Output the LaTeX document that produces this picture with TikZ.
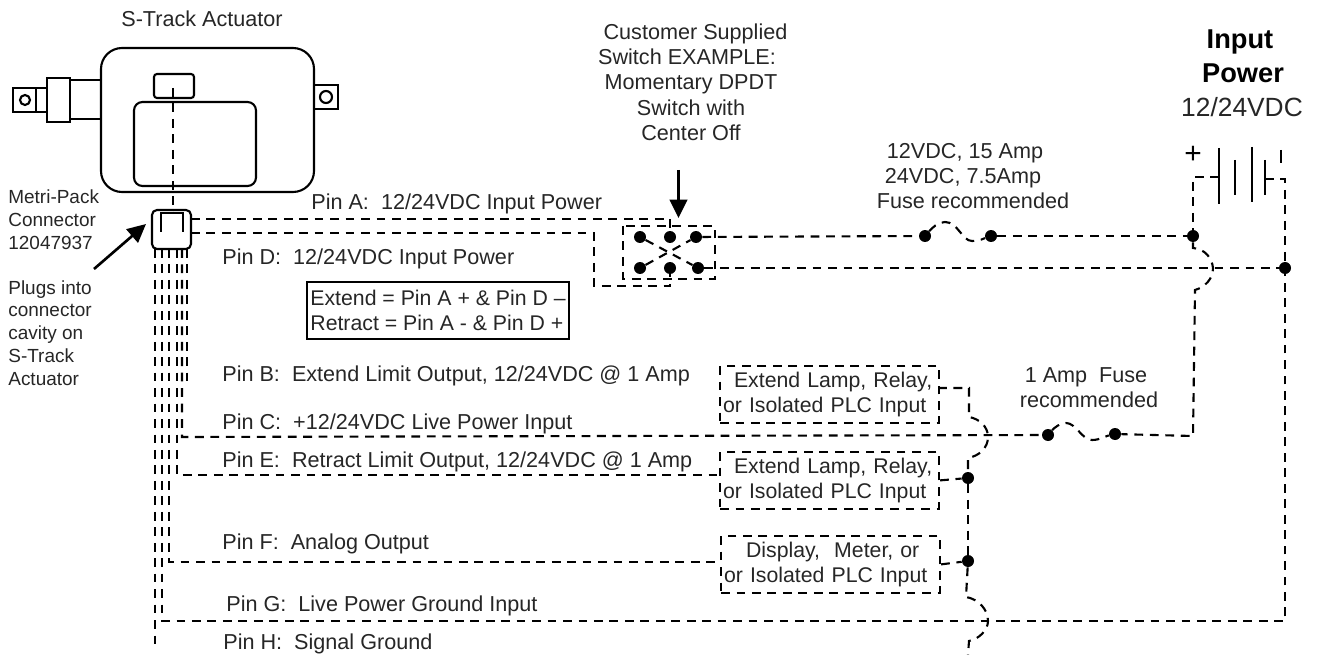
\documentclass[tikz,border=0pt]{standalone}
\usepackage{fontspec}
\setmainfont{Liberation Sans}
\usetikzlibrary{arrows.meta}
\tikzset{
  wire/.style={line width=1.2pt, dash pattern=on 5pt off 3.8pt},
  solid line/.style={line width=1.2pt},
  dot/.style={circle, fill=black, inner sep=0pt, minimum size=0.24cm},
  lampbox/.style={wire, draw, anchor=north west, align=left, text width=4.26cm, inner xsep=0.06cm, minimum height=1.08cm, font=\fontsize{12.1}{14.3}\selectfont, text=black!85},
  txt/.style={font=\fontsize{12.3}{14.4}\selectfont, text=black!85, inner sep=0pt},
  small/.style={font=\fontsize{10.8}{13}\selectfont, text=black!85, inner sep=0pt, anchor=west},
  pin/.style={txt, anchor=west},
  pointer/.style={line width=1.5pt, -{Triangle[length=10.5pt,width=10pt]}}
}
\begin{document}
\begin{tikzpicture}[x=0.02cm,y=-0.02cm]
\useasboundingbox (0,0) rectangle (1318,655);
% actuator
\draw [solid line, rounded corners=0.42cm] (101,48) rectangle (314,192);
\draw [solid line, rounded corners=0.17cm] (134,102) rectangle (256,186);
\draw [solid line, rounded corners=0.06cm] (154,74) rectangle (194,98);
\draw [solid line] (70,80) -- (101,80);
\draw [solid line] (70,119) -- (101,119);
\draw [solid line] (47,78) rectangle (70,122);
\draw [solid line] (36,88) rectangle (47,112);
\draw [solid line] (13,88) rectangle (36,112);
\draw [solid line] (25,100) circle (0.1cm);
\draw [solid line] (314,85) rectangle (338,109);
\draw [solid line] (326,97) circle (0.12cm);
\node [txt, font=\fontsize{12.3}{15}\selectfont] (title) at (202,19) {S-Track Actuator};
% connector
\draw [solid line, rounded corners=0.1cm] (152,210) rectangle (191,249);
\draw [solid line] (161,232) -- (161,213) -- (183,213) -- (183,232);
\coordinate (plug) at (173,88);
\coordinate (socket) at (173,212);
\draw [wire] (plug) -- (socket);
\node [small, align=left] (metri) at (8,220) {Metri-Pack\\Connector\\12047937};
\node [small, align=left] (cavity) at (8,333) {Plugs into\\connector\\cavity on\\S-Track\\Actuator};
\coordinate (noteA) at (94,269);
\coordinate (noteB) at (146,224);
\draw [pointer] (noteA) -- (noteB);
% switch
\node [dot] (swa) at (640,237) {};
\node [dot] (swb) at (670,237) {};
\node [dot] (swc) at (696,237) {};
\node [dot] (swd) at (640,268) {};
\node [dot] (swe) at (670,268) {};
\node [dot] (swf) at (698,268) {};
\coordinate (swnw) at (623,226);
\coordinate (swse) at (715,279);
\draw [wire] (swnw) rectangle (swse);
\draw [wire] (swa) -- (swf);
\draw [wire] (swd) -- (swc);
\node [txt, align=center] (customer) at (691,82) {\hspace*{0.18cm}Customer Supplied\\\hspace*{-0.16cm}Switch EXAMPLE:\\Momentary DPDT\\Switch with\\Center Off};
\coordinate (noteC) at (678.5,170);
\coordinate (noteD) at (678.5,218);
\draw [pointer] (noteC) -- (noteD);
% pin wires
\coordinate (wa) at (191,219);
\coordinate (wd) at (191,233);
\coordinate (bendd) at (594,233);
\coordinate (bende) at (594,286);
\coordinate (wh) at (155,249);
\coordinate (eh) at (155,650);
\coordinate (wg) at (162,249);
\coordinate (eg) at (162,621);
\coordinate (wf) at (169,249);
\coordinate (ef) at (169,562);
\coordinate (we) at (177,249);
\coordinate (ee) at (177,475);
\coordinate (wc) at (182,249);
\coordinate (ec) at (182,437);
\coordinate (wb) at (187,249);
\coordinate (eb) at (187,388);
\draw [wire] (wa) -| (swb);
\draw [wire] (wd) -- (bendd) -- (bende) -| (swe);
\draw [wire] (wb) -- (eb);
\draw [wire] (wh) -- (eh);
% pin labels
\node [pin] (pina) at (311,204) {Pin A:\ \ 12/24VDC Input Power};
\node [pin] (pind) at (222,259) {Pin D:\ \ 12/24VDC Input Power};
\node [pin] (pinb) at (222,376) {Pin B:\ \ Extend Limit Output, 12/24VDC @ 1 Amp};
\node [pin] (pinc) at (222,424) {Pin C:\ \ +12/24VDC Live Power Input};
\node [pin] (pine) at (222,462) {Pin E:\ \ Retract Limit Output, 12/24VDC @ 1 Amp};
\node [pin] (pinf) at (222,544) {Pin F:\ \ Analog Output};
\node [pin] (ping) at (226,606) {Pin G:\ \ Live Power Ground Input};
\node [pin] (pinh) at (223,644) {Pin H:\ \ Signal Ground};
\node [solid line, draw, anchor=north west, txt, font=\fontsize{12.1}{14.6}\selectfont, minimum width=5.24cm, minimum height=1.14cm, align=left] (truth) at (306,281) {Extend = Pin A + \& Pin D --\\Retract = Pin A - \& Pin D +};
% load boxes
\node [lampbox] (lampb) at (719,365) {\hspace*{0.22cm}Extend Lamp, Relay,\\or Isolated PLC Input};
\node [lampbox] (lampe) at (719,451) {\hspace*{0.22cm}Extend Lamp, Relay,\\or Isolated PLC Input};
\node [lampbox] (disp) at (720,535) {\hspace*{0.44cm}Display,\ \ Meter, or\\or Isolated PLC Input};
\coordinate (oute) at (719,475);
\coordinate (outf) at (720,562);
\draw [wire] (we) -- (ee) -- (oute);
\draw [wire] (wf) -- (ef) -- (outf);
% fuse A
\node [dot] (fusea) at (925,236) {};
\node [dot] (fuseb) at (991,236) {};
\node [txt, align=center] (fusenote) at (965,176) {12VDC, 15 Amp\\\hspace*{-0.08cm}24VDC, 7.5Amp\\\hspace*{0.32cm}Fuse recommended};
\draw [wire] (swc) -- (fusea);
\draw [wire] (fusea) .. controls (932,228) and (938,222) .. (945,222) .. controls (958,222) and (962,241) .. (972,241) .. controls (980,241) and (985,238) .. (fuseb);
% battery
\node [dot] (topdot) at (1193,236) {};
\node [dot] (botdot) at (1285,268) {};
\node [inner sep=0pt, font=\fontsize{17}{17}\selectfont] (plus) at (1193,155) {+};
\draw [solid line] (1219,148) -- (1219,204);
\draw [solid line] (1235,160) -- (1235,195);
\draw [solid line] (1252,147) -- (1252,202);
\draw [solid line] (1265,160) -- (1265,195);
\coordinate (tick) at (1281,150);
\coordinate (ticke) at (1281,163);
\draw [solid line] (tick) -- (ticke);
\coordinate (bata) at (1219,177);
\coordinate (batb) at (1193,177);
\coordinate (batc) at (1265,179);
\coordinate (batd) at (1285,179);
\draw [wire] (bata) -- (batb) -- (topdot);
\draw [wire] (fuseb) -- (topdot);
\draw [wire] (swf) -- (botdot);
\draw [wire] (batc) -- (batd) -- (botdot);
\node [font=\bfseries\fontsize{15.5}{18}\selectfont, inner sep=0pt] (input) at (1240,42) {Input};
\node [font=\bfseries\fontsize{15.5}{18}\selectfont, inner sep=0pt] (power) at (1243,73) {Power};
\node [font=\fontsize{15}{18}\selectfont, text=black!85, inner sep=0pt] (volts) at (1242,107) {12/24VDC};
% fuse C and ground
\node [dot] (fusec) at (1048,435) {};
\node [dot] (fused) at (1115,434) {};
\node [txt, align=center] (fusetwo) at (1089,388) {\hspace*{-0.12cm}1 Amp\ \ Fuse\\recommended};
\coordinate (hopa) at (1193,248);
\coordinate (hopb) at (1213,268);
\coordinate (hopc) at (1195,290);
\coordinate (cright) at (1193,436);
\draw [wire] (topdot) -- (hopa) .. controls (1205,249) and (1212,258) .. (hopb) .. controls (1213,279) and (1205,287) .. (hopc) -- (cright) -- (fused);
\draw [wire] (wc) -- (ec) -- (fusec);
\draw [wire] (fusec) .. controls (1054,428) and (1060,423) .. (1066,423) .. controls (1076,423) and (1082,440) .. (1092,440) .. controls (1100,440) and (1106,436) .. (fused);
\coordinate (gright) at (1285,621);
\draw [wire] (wg) -- (eg) -- (gright) -- (botdot);
% lamp return
\node [dot] (ret) at (968,478) {};
\node [dot] (reu) at (968,561) {};
\coordinate (outb) at (938,388);
\coordinate (retb) at (969,388);
\coordinate (retc) at (969,417);
\coordinate (retd) at (988,437);
\coordinate (rete) at (968,458);
\coordinate (retf) at (966,597);
\coordinate (retg) at (988,621);
\coordinate (reth) at (969,641);
\coordinate (reti) at (968,655);
\draw [wire] (outb) -- (retb) -- (retc) .. controls (980,419) and (988,427) .. (retd) .. controls (988,448) and (979,456) .. (rete) -- (ret);
\draw [wire] (lampe.east) -- (ret);
\draw [wire] (disp.east) -- (reu);
\draw [wire] (ret) -- (reu);
\draw [wire] (reu) -- (retf) .. controls (978,599) and (988,609) .. (retg) .. controls (988,630) and (979,639) .. (reth) -- (reti);
\end{tikzpicture}
\end{document}
